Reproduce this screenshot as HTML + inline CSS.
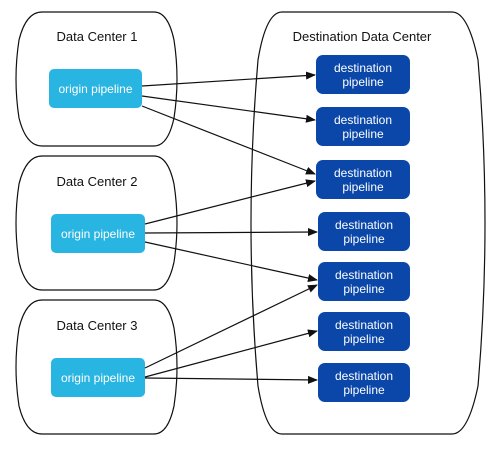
<!DOCTYPE html>
<html><head><style>body{margin:0;background:#fff}svg{display:block}</style></head><body>
<svg width="501" height="449" viewBox="0 0 501 449" xmlns="http://www.w3.org/2000/svg" font-family="Liberation Sans, sans-serif">
<defs>
<marker id="a" markerWidth="10" markerHeight="8" refX="9" refY="4" orient="auto" markerUnits="userSpaceOnUse"><path d="M0,0 L10,4 L0,8 Z" fill="#111"/></marker>
</defs>
<g fill="#fff" stroke="#111" stroke-width="1.2">
<path d="M42,12 L154,12 Q168,12 174,40 Q180,79 174,118 Q168,146 154,146 L42,146 Q26,146 19,118 Q13,79 19,40 Q26,12 42,12Z"/>
<path d="M42,156 L154,156 Q168,156 174,184 Q180,223 174,262 Q168,290 154,290 L42,290 Q26,290 19,262 Q13,223 19,184 Q26,156 42,156Z"/>
<path d="M42,300 L154,300 Q168,300 174,328 Q180,367 174,406 Q168,434 154,434 L42,434 Q26,434 19,406 Q13,367 19,328 Q26,300 42,300Z"/>
<path d="M282,12 L452,12 Q468,12 478,60 Q492,223 478,386 Q468,434 452,434 L282,434 Q266,434 258,386 Q244,223 258,60 Q266,12 282,12Z"/>
</g>
<g font-size="13" fill="#111" text-anchor="middle">
<text x="97" y="41">Data Center 1</text>
<text x="97" y="186">Data Center 2</text>
<text x="97" y="330">Data Center 3</text>
<text x="362" y="41">Destination Data Center</text>
</g>
<g fill="#29b5e1">
<rect x="49" y="69" width="93" height="39" rx="5"/>
<rect x="51" y="214" width="94" height="39" rx="5"/>
<rect x="51" y="358" width="94" height="39" rx="5"/>
</g>
<g fill="#fff" font-size="12" text-anchor="middle">
<text x="95.5" y="93">origin pipeline</text>
<text x="98" y="238">origin pipeline</text>
<text x="98" y="382">origin pipeline</text>
</g>
<g fill="#0a47a9">
<rect x="316" y="55" width="94" height="39" rx="7"/>
<rect x="316" y="107" width="94" height="39" rx="7"/>
<rect x="316" y="160" width="94" height="39" rx="7"/>
<rect x="318" y="212" width="92" height="39" rx="7"/>
<rect x="318" y="262" width="92" height="39" rx="7"/>
<rect x="318" y="312" width="92" height="39" rx="7"/>
<rect x="318" y="363" width="92" height="39" rx="7"/>
</g>
<g fill="#fff" font-size="12" text-anchor="middle">
<text x="363" y="72">destination</text><text x="363" y="86">pipeline</text>
<text x="363" y="124">destination</text><text x="363" y="138">pipeline</text>
<text x="363" y="177">destination</text><text x="363" y="191">pipeline</text>
<text x="364" y="229">destination</text><text x="364" y="243">pipeline</text>
<text x="364" y="279">destination</text><text x="364" y="293">pipeline</text>
<text x="364" y="329">destination</text><text x="364" y="343">pipeline</text>
<text x="364" y="380">destination</text><text x="364" y="394">pipeline</text>
</g>
<g stroke="#111" stroke-width="1.2" marker-end="url(#a)">
<line x1="142" y1="86" x2="315" y2="75"/>
<line x1="142" y1="96" x2="315" y2="120"/>
<line x1="142" y1="106" x2="315" y2="174"/>
<line x1="145" y1="224" x2="315" y2="181"/>
<line x1="145" y1="233" x2="317" y2="232"/>
<line x1="145" y1="242" x2="317" y2="280"/>
<line x1="145" y1="368" x2="317" y2="285"/>
<line x1="145" y1="377" x2="317" y2="331"/>
<line x1="145" y1="378" x2="317" y2="380"/>
</g>
</svg>
</body></html>
